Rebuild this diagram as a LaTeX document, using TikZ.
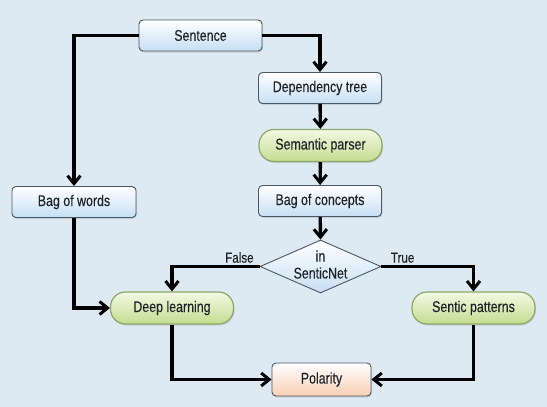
\documentclass[tikz,border=0pt]{standalone}
\usepackage{fontspec}
\setmainfont[FakeStretch=0.80,FakeBold=0.25]{Liberation Sans}
\usetikzlibrary{arrows.meta,shapes.geometric,shadows}
\definecolor{bgc}{HTML}{DDEAF3}
\definecolor{bluetop}{HTML}{FFFFFF}
\definecolor{bluebot}{HTML}{C6DFF4}
\definecolor{blueedge}{HTML}{4A5866}
\definecolor{greentop}{HTML}{F4F9E4}
\definecolor{greenbot}{HTML}{C3DC90}
\definecolor{greenedge}{HTML}{8DA766}
\definecolor{peachtop}{HTML}{FFFFFF}
\definecolor{peachbot}{HTML}{F8CFB4}
\definecolor{txt}{HTML}{1E2328}
\tikzset{
  x=1pt,y=-1pt,
  every node/.style={font=\fontsize{15.5}{17}\selectfont, text=txt},
  bluebox/.style={draw=blueedge, line width=0.9pt, rounded corners=4pt,
    top color=bluetop, bottom color=bluebot, minimum width=123pt, minimum height=31pt,
    drop shadow={shadow xshift=1pt,shadow yshift=-1.5pt,opacity=0.25}},
  greenpill/.style={draw=greenedge, line width=1.2pt, rounded corners=15pt,
    top color=greentop, bottom color=greenbot, minimum width=123pt, minimum height=32pt,
    drop shadow={shadow xshift=1pt,shadow yshift=-1.5pt,opacity=0.25}},
  peachbox/.style={draw=blueedge, line width=0.9pt, rounded corners=4pt,
    top color=peachtop, bottom color=peachbot, minimum width=99pt, minimum height=33pt,
    drop shadow={shadow xshift=1pt,shadow yshift=-1.5pt,opacity=0.25}},
  decide/.style={diamond, draw=blueedge, line width=0.9pt, aspect=2.3,
    top color=bluetop, bottom color=bluebot, inner sep=0pt,
    minimum width=121pt, minimum height=53pt},
  dectext/.style={align=center, inner sep=0pt},
  conn/.style={line width=3.4pt, black, -{Straight Barb[length=8pt,width=13pt,line width=3pt]}},
  lbl/.style={font=\fontsize{14.5}{16}\selectfont}
}
\begin{document}
\begin{tikzpicture}
\fill[bgc] (0,0) rectangle (547,407);
\useasboundingbox (0,0) rectangle (547,407);
\node[bluebox] (sent) at (200.5,35.5) {Sentence};
\node[bluebox] (dep) at (320,88) {Dependency tree};
\node[greenpill] (sem) at (320.5,145.5) {Semantic parser};
\node[bluebox] (boc) at (320,201) {Bag of concepts};
\node[decide] (dec) at (320.5,266.5) {};
\node[dectext] (dectxt) at (320.5,264.5) {in\\[0pt]SenticNet};
\node[bluebox, minimum width=124pt] (bow) at (74,202) {Bag of words};
\node[greenpill] (deep) at (172,308) {Deep learning};
\node[greenpill] (sentic) at (473.5,308) {Sentic patterns};
\node[peachbox] (pol) at (321.5,379.5) {Polarity};

\draw[conn] (sent.west) -| (bow.north);
\draw[conn] (sent.east) -| (dep.north);
\draw[conn] (dep) -- (sem);
\draw[conn] (sem) -- (boc);
\draw[conn] (boc) -- (dec.north);
\draw[conn] (dec.west) -| node[lbl, pos=0.115, above, inner sep=2pt] {False} (deep.north);
\draw[conn] (dec.east) -| node[lbl, pos=0.115, above, inner sep=2pt] {True} (sentic.north);
\draw[conn] (bow.south) |- (deep.west);
\draw[conn] (deep.south) |- (pol.west);
\draw[conn] (sentic.south) |- (pol.east);
\end{tikzpicture}
\end{document}
